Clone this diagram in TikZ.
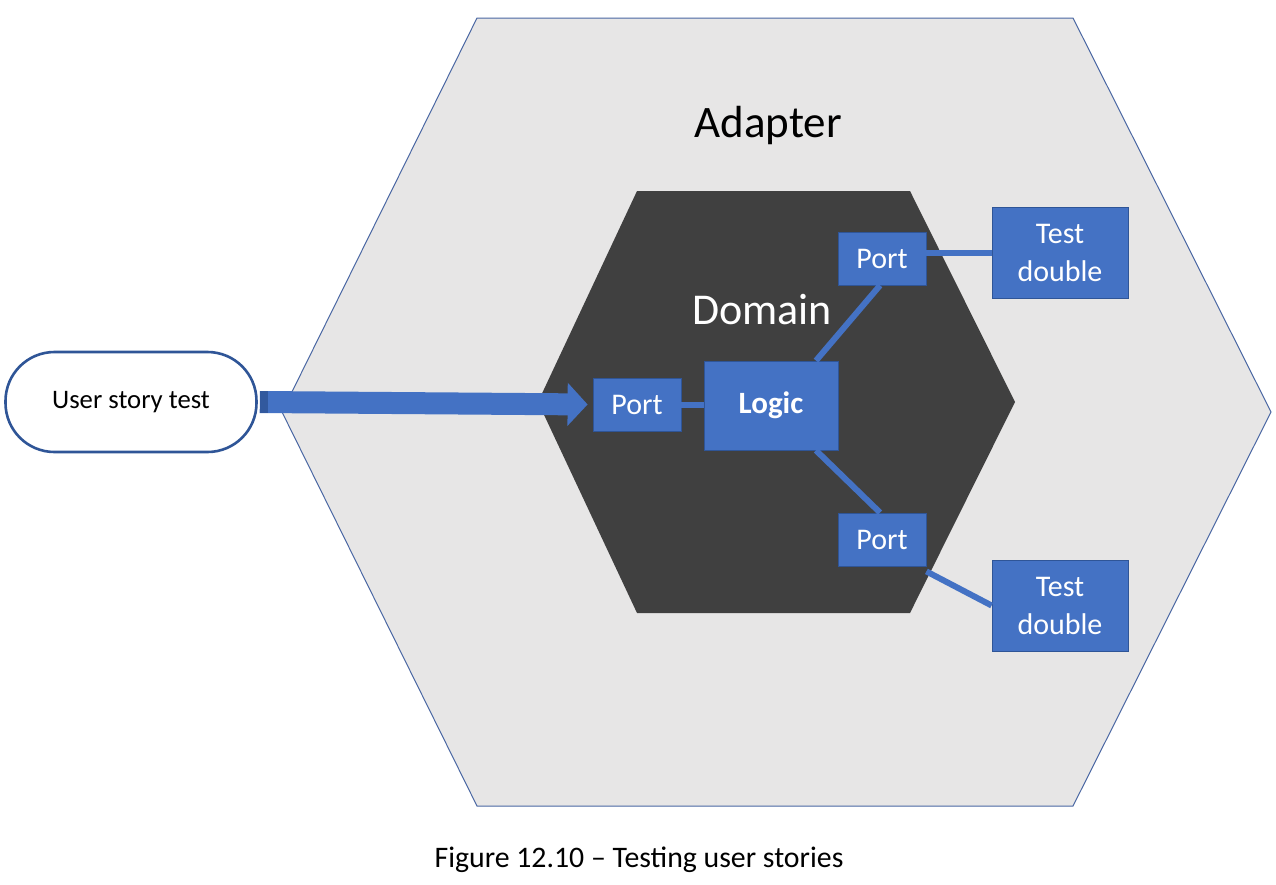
\documentclass[tikz,border=0pt]{standalone}
\usepackage{fontspec}
\setmainfont{Carlito}
\usetikzlibrary{arrows.meta,calc}
\definecolor{hexlight}{HTML}{E7E6E6}
\definecolor{hexdark}{HTML}{404040}
\definecolor{mblue}{HTML}{4472C4}
\definecolor{bblue}{HTML}{2F5597}
\definecolor{hexline}{HTML}{4A67A3}
\begin{document}
\begin{tikzpicture}[x=1pt,y=-1pt,
  bluebox/.style={draw=bblue, line width=0.8pt, fill=mblue, text=white, inner sep=0pt, align=center, font=\fontsize{30}{38}\selectfont},
  link/.style={draw=mblue, line width=6pt},
  pill/.style={draw=bblue, line width=2.6pt, fill=white, rounded corners=49pt, minimum width=251pt, minimum height=100pt, font=\fontsize{26.7}{30}\selectfont}
]
\useasboundingbox (0,0) rectangle (1276,884);
\fill[white] (0,0) rectangle (1276,884);
% outer hexagon
\filldraw[fill=hexlight, draw=hexline, line width=1pt]
  (477,18) -- (1073,18) -- (1271,412) -- (1073,806) -- (477,806) -- (282,412) -- cycle;
% inner hexagon
\fill[hexdark] (637,191) -- (910,191) -- (1015,402) -- (910,613) -- (637,613) -- (538,402) -- cycle;
\node[font=\fontsize{45}{50}\selectfont] (adapter) at (768,125) {Adapter};
\node[font=\fontsize{44}{50}\selectfont, text=white] (domain) at (762,310) {Domain};
% nodes
\node[pill] (ust) at (131,402) {User story test};
\node[bluebox, minimum width=88pt, minimum height=53pt] (portL) at (637,404.5) {Port};
\node[bluebox, minimum width=134pt, minimum height=89pt, font=\fontsize{31}{34}\selectfont\bfseries] (logic) at (771,405.5) {Logic};
\node[bluebox, minimum width=88pt, minimum height=53pt] (portT) at (882,258.5) {Port};
\node[bluebox, minimum width=88pt, minimum height=53pt] (portB) at (882,539.5) {Port};
\node[bluebox, minimum width=136pt, minimum height=91pt] (tdT) at (1060,252.5) {Test\\double};
\node[bluebox, minimum width=136pt, minimum height=91pt] (tdB) at (1060,605.5) {Test\\double};
% connectors
\draw[link] (portL.east) -- (portL.east -| logic.west);
\draw[link] ([xshift=45pt]logic.north) -- ([xshift=-2pt]portT.south);
\draw[link] ([xshift=45pt]logic.south) -- ([xshift=-2pt]portB.north);
\draw[link] (tdT.west) -- (tdT.west -| portT.east);
\draw[link] ([yshift=-5pt]portB.south east) -- (tdB.west);
% block arrow
\draw[draw=mblue, line width=22pt, shorten >=5pt, -{Triangle[width=42pt,length=20pt]}] ([xshift=2pt]ust.east) -- (portL.west);
\fill[bblue!85!mblue] ([xshift=2pt,yshift=-11pt]ust.east) rectangle ([xshift=10pt,yshift=11pt]ust.east);
% caption
\node[font=\fontsize{29.8}{34}\selectfont] (caption) at (639,860) {Figure 12.10 – Testing user stories};
\end{tikzpicture}
\end{document}
